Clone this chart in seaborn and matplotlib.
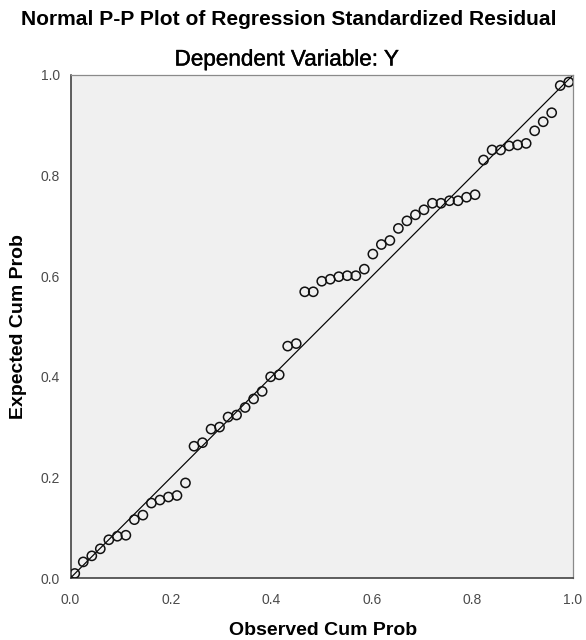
import matplotlib
matplotlib.use("Agg")
import matplotlib.pyplot as plt
import matplotlib.patheffects as pe
import seaborn as sns
import pandas as pd

# ── data ─────────────────────────────────────────────────────────────
observed_cum_prob = [
    0.0085, 0.0254, 0.0424, 0.0593, 0.0763, 0.0932, 0.1102, 0.1271, 0.1441, 0.1610,
    0.1780, 0.1949, 0.2119, 0.2288, 0.2458, 0.2627, 0.2797, 0.2966, 0.3136, 0.3305,
    0.3475, 0.3644, 0.3814, 0.3983, 0.4153, 0.4322, 0.4492, 0.4661, 0.4831, 0.5000,
    0.5169, 0.5339, 0.5508, 0.5678, 0.5847, 0.6017, 0.6186, 0.6356, 0.6525, 0.6695,
    0.6864, 0.7034, 0.7203, 0.7373, 0.7542, 0.7712, 0.7881, 0.8051, 0.8220, 0.8390,
    0.8559, 0.8729, 0.8898, 0.9068, 0.9237, 0.9407, 0.9576, 0.9746, 0.9915,
]
expected_cum_prob = [
    0.009, 0.032, 0.044, 0.058, 0.076, 0.083, 0.085, 0.116, 0.125, 0.149,
    0.155, 0.161, 0.164, 0.189, 0.262, 0.269, 0.296, 0.300, 0.320, 0.324,
    0.339, 0.356, 0.371, 0.400, 0.404, 0.461, 0.466, 0.569, 0.569, 0.590,
    0.594, 0.599, 0.601, 0.601, 0.614, 0.644, 0.663, 0.671, 0.695, 0.710,
    0.722, 0.732, 0.745, 0.745, 0.750, 0.750, 0.757, 0.762, 0.831, 0.851,
    0.851, 0.859, 0.861, 0.864, 0.889, 0.907, 0.925, 0.979, 0.986,
]
tick_values = [0.0, 0.2, 0.4, 0.6, 0.8, 1.0]
tick_labels = ["0.0", "0.2", "0.4", "0.6", "0.8", "1.0"]

TITLE = "Normal P-P Plot of Regression Standardized Residual"
SUBTITLE = "Dependent Variable: Y"
XLABEL = "Observed Cum Prob"
YLABEL = "Expected Cum Prob"

df = pd.DataFrame({"observed": observed_cum_prob, "expected": expected_cum_prob})

# ── style ───────────────────────────────────────────────────────────
sns.set_style("white")
plt.rcParams["font.family"] = ["Liberation Sans", "DejaVu Sans"]

W, H = 586, 640
fig = plt.figure(figsize=(W / 100, H / 100), dpi=100)
ax = fig.add_axes([70.5 / W, 1 - 578 / H, 502.5 / W, 503 / H])
ax.set_facecolor("#f0f0f0")

# diagonal reference line
ax.plot([0, 1], [0, 1], color="black", lw=0.85, zorder=2)

sns.scatterplot(data=df, x="observed", y="expected", ax=ax,
                marker="o", s=44, facecolor="none", edgecolor="#111111",
                linewidth=1.1, zorder=3)

ax.set_xlim(0, 1)
ax.set_ylim(0, 1)
ax.set_xticks(tick_values)
ax.set_xticklabels(tick_labels)
ax.set_yticks(tick_values)
ax.set_yticklabels(tick_labels)
ax.set_xlabel("")
ax.set_ylabel("")

ax.tick_params(axis="both", direction="out", length=7, width=1.0,
               color="#333333", labelcolor="#4a4a4a", labelsize=10)
ax.tick_params(axis="x", pad=3.5)
ax.tick_params(axis="y", pad=0.8)

for side in ["left", "bottom"]:
    ax.spines[side].set_color("#333333")
    ax.spines[side].set_linewidth(1.1)
for side in ["top", "right"]:
    ax.spines[side].set_color("#8a8a8a")
    ax.spines[side].set_linewidth(0.9)

# titles and axis labels
fig.text(289 / W, 1 - 25 / H, TITLE, ha="center", va="baseline",
         fontsize=15.1, fontweight="bold", color="black")
fig.text(287 / W, 1 - 65.5 / H, SUBTITLE, ha="center", va="baseline",
         fontsize=16.2, color="black",
         path_effects=[pe.withStroke(linewidth=0.3, foreground="black")])
fig.text(323 / W, 1 - 635 / H, XLABEL, ha="center", va="baseline",
         fontsize=14, fontweight="bold", color="black")
fig.text(19 / W, 1 - 326.5 / H, YLABEL, ha="center", va="center",
         rotation=90, fontsize=14, fontweight="bold", color="black")

fig.savefig("out.png", dpi=100, facecolor="white")
